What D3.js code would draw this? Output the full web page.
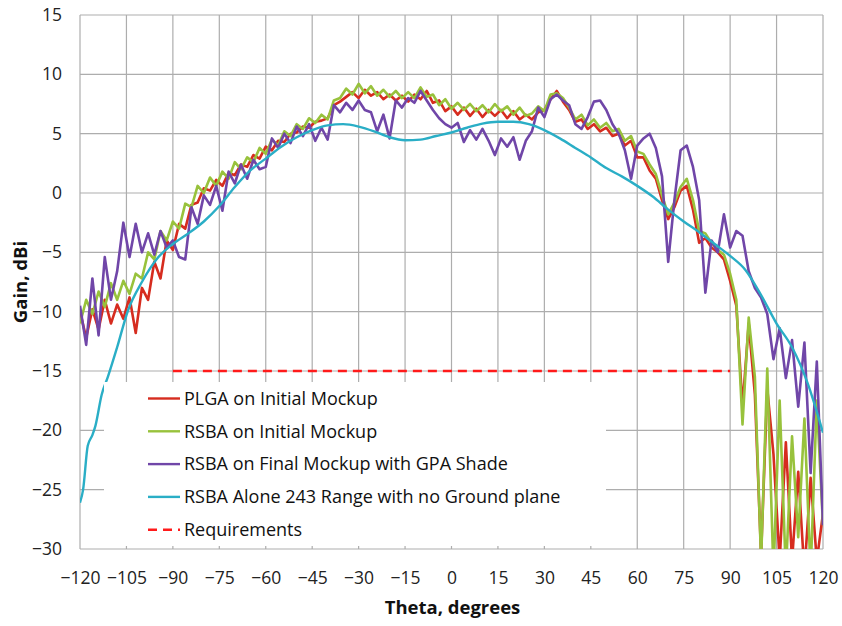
<!DOCTYPE html>
<html><head><meta charset="utf-8">
<script src="https://cdn.jsdelivr.net/npm/d3@7"></script>
<style>
html,body{margin:0;padding:0;background:#fff;}
svg{display:block;font-family:"Open Sans",Lato,sans-serif;}
</style></head><body>
<svg id="chart" width="842" height="626"></svg>
<script>
// Measured gain patterns, sampled every 2 degrees from -120 to 120
const thetaGrid = d3.range(-120, 121, 2);

const plgaInitial = [
  -10.0,-12.2,-9.8,-11.5,-9.0,-11.0,-9.4,-10.6,-8.8,-11.8,
  -8.0,-9.0,-5.8,-7.2,-4.0,-4.8,-2.6,-3.0,-1.0,-0.8,
  0.4,0.2,1.1,0.6,1.7,1.5,2.4,2.2,3.2,2.9,
  3.9,3.6,4.4,4.3,5.0,5.1,5.6,5.5,6.0,6.1,
  6.3,7.4,7.7,8.1,8.5,8.0,8.7,8.2,8.5,7.9,
  8.3,7.8,8.2,7.7,8.3,7.9,8.6,7.6,7.8,6.9,
  7.3,6.6,7.2,6.5,7.1,6.4,7.0,6.5,7.0,6.3,
  6.9,6.2,6.6,6.2,6.8,7.0,7.9,8.6,7.7,7.0,
  6.0,6.2,5.4,5.8,5.2,5.5,4.8,5.0,4.0,4.4,
  3.0,3.0,1.9,1.2,-0.6,-2.2,-1.2,0.2,0.6,-1.4,
  -4.2,-3.8,-4.6,-5.0,-5.6,-7.4,-9.5,-18.0,-11.0,-17.0,
  -30.5,-16.5,-22.0,-31.0,-21.0,-31.0,-23.5,-32.0,-24.0,-31.0,
  -27.0
];

const rsbaInitial = [
  -11.0,-9.0,-10.2,-8.3,-9.6,-7.6,-9.0,-7.4,-8.5,-6.8,
  -7.2,-5.0,-5.6,-3.2,-4.0,-2.4,-3.0,-0.9,-1.2,0.6,
  0.0,1.3,0.6,1.8,1.2,2.6,2.0,3.0,2.6,3.8,
  3.3,4.5,4.0,5.2,4.8,5.8,5.4,6.3,5.9,6.6,
  6.2,7.8,8.0,8.8,8.3,9.2,8.4,9.0,8.2,8.7,
  8.1,8.6,8.0,8.5,8.0,8.9,8.1,8.3,7.4,7.9,
  7.1,7.6,7.0,7.5,6.9,7.4,6.8,7.5,6.9,7.3,
  6.6,7.2,6.5,6.7,7.3,6.9,8.3,8.4,8.0,7.2,
  6.2,6.6,5.7,6.2,5.5,5.9,5.2,5.4,4.4,4.8,
  3.5,3.3,2.4,1.6,-0.2,-1.8,-0.8,0.5,1.2,-0.6,
  -3.2,-3.4,-4.2,-4.8,-5.2,-6.8,-9.0,-19.5,-10.5,-15.5,
  -31.0,-14.8,-32.0,-17.5,-32.0,-20.5,-29.0,-19.0,-32.0,-17.5,
  -28.0
];

const rsbaFinalGpa = [
  -9.5,-12.8,-7.2,-12.0,-5.4,-9.0,-6.6,-2.5,-5.4,-2.6,
  -5.0,-3.4,-5.2,-3.2,-4.6,-4.0,-5.4,-5.6,-1.2,-2.6,
  -0.2,-1.0,0.6,-1.5,1.8,0.8,2.4,1.2,2.8,2.0,
  2.2,4.6,3.8,5.0,4.2,5.6,4.8,5.8,4.4,5.5,
  4.5,7.4,6.8,7.6,7.0,7.8,7.0,6.8,5.2,6.6,
  4.6,7.8,7.2,8.0,7.6,8.6,7.8,7.0,6.3,5.8,
  5.5,5.9,4.3,5.3,4.5,5.4,4.4,3.2,4.6,3.9,
  4.7,2.8,4.4,5.2,7.2,6.4,7.9,8.3,7.8,7.4,
  5.8,5.4,6.4,7.7,7.8,7.0,5.8,5.0,3.6,1.2,
  4.0,4.6,5.0,3.8,1.4,-5.8,-0.6,3.6,4.0,2.2,
  -0.6,-8.4,-4.0,-5.0,-1.8,-4.6,-3.2,-3.6,-6.6,-8.0,
  -8.8,-10.2,-14.0,-11.4,-15.6,-12.4,-18.0,-12.6,-23.6,-14.2,
  -28.0
];

// Antenna alone on the 243 range: smooth pattern
const aloneTheta = [-120,-119,-117.5,-116,-115,-113,-111,-108,-104.5,-100,-95,-90,-85,-80,-75,-70,-65,-60,-55,-50,-45,-40,-35,-30,-25,-20,-15,-10,-5,0,5,10,15,20,25,30,35,40,45,50,55,60,65,70,75,80,85,90,95,100,105,110,115,120];
const aloneGain  = [-26.1,-25.0,-21.3,-20.4,-19.6,-17.0,-15.5,-13.0,-9.9,-7.5,-5.5,-4.3,-3.4,-2.4,-1.1,0.5,1.9,2.9,3.9,4.7,5.3,5.7,5.8,5.6,5.2,4.7,4.45,4.5,4.8,5.1,5.5,5.85,6.0,6.0,5.8,5.3,4.6,3.8,3.0,2.1,1.4,0.6,-0.3,-1.4,-2.4,-3.3,-4.3,-5.3,-6.5,-8.6,-11.0,-13.0,-16.0,-20.2];

const requirementTheta = [-90, 90];
const requirementGain = [-15, -15];

const xTicks = [-120,-105,-90,-75,-60,-45,-30,-15,0,15,30,45,60,75,90,105,120];
const yTicks = [15,10,5,0,-5,-10,-15,-20,-25,-30];

const seriesNames = [
  "PLGA on Initial Mockup",
  "RSBA on Initial Mockup",
  "RSBA on Final Mockup with GPA Shade",
  "RSBA Alone 243 Range with no Ground plane",
  "Requirements"
];
const seriesColors = ["#d62c1f", "#98c23c", "#7046a8", "#2aaec6", "#ff1a1a"];

const svg = d3.select("#chart");
const L = 80, R = 823, T = 15, B = 549;
const x = d3.scaleLinear().domain([-120, 120]).range([L, R]);
const y = d3.scaleLinear().domain([-30, 15]).range([B, T]);
const FONT = "'Open Sans',Lato,sans-serif";

// grid
const grid = svg.append("g");
grid.selectAll("line.v").data(xTicks).join("line")
  .attr("x1", d => x(d)).attr("x2", d => x(d)).attr("y1", T).attr("y2", B)
  .attr("stroke", "#adadad").attr("stroke-width", 1.2);
grid.selectAll("line.h").data(yTicks).join("line")
  .attr("x1", L).attr("x2", R).attr("y1", d => y(d)).attr("y2", d => y(d))
  .attr("stroke", "#adadad").attr("stroke-width", 1.2);

svg.append("clipPath").attr("id", "plotClip").append("rect")
  .attr("x", L).attr("y", T).attr("width", R - L).attr("height", B - T);

const plot = svg.append("g").attr("clip-path", "url(#plotClip)");
const jagged = d3.line().x(d => x(d[0])).y(d => y(d[1]));
const smooth = d3.line().x(d => x(d[0])).y(d => y(d[1])).curve(d3.curveMonotoneX);

[plgaInitial, rsbaInitial, rsbaFinalGpa].forEach((vals, i) => {
  plot.append("path")
    .datum(thetaGrid.map((t, k) => [t, vals[k]]))
    .attr("d", jagged)
    .attr("fill", "none")
    .attr("stroke", seriesColors[i])
    .attr("stroke-width", 2.6)
    .attr("stroke-linejoin", "round");
});
plot.append("path")
  .datum(aloneTheta.map((t, k) => [t, aloneGain[k]]))
  .attr("d", smooth)
  .attr("fill", "none").attr("stroke", seriesColors[3]).attr("stroke-width", 2.4);
plot.append("path")
  .datum(requirementTheta.map((t, k) => [t, requirementGain[k]]))
  .attr("d", jagged)
  .attr("fill", "none").attr("stroke", seriesColors[4]).attr("stroke-width", 2.6)
  .attr("stroke-dasharray", "9,6");

// axes labels
const yAxis = d3.axisLeft(y).tickValues(yTicks).tickSize(0).tickPadding(18);
svg.append("g").attr("transform", `translate(${L},0)`).call(yAxis)
  .call(g => g.select(".domain").remove())
  .selectAll("text").attr("font-size", 17.5).attr("fill", "#222").attr("font-family", FONT);
const xAxis = d3.axisBottom(x).tickValues(xTicks).tickSize(0).tickPadding(23);
svg.append("g").attr("transform", `translate(0,${B})`).call(xAxis)
  .call(g => g.select(".domain").remove())
  .selectAll("text").attr("font-size", 17.5).attr("fill", "#222").attr("font-family", FONT);

svg.append("text").attr("x", (L + R) / 2 + 1).attr("y", 614).attr("text-anchor", "middle")
  .attr("font-size", 18.5).attr("font-weight", "bold").attr("fill", "#111").text("Theta, degrees");
svg.append("text").attr("transform", `translate(27,${(T + B) / 2}) rotate(-90)`).attr("text-anchor", "middle")
  .attr("font-size", 18.5).attr("font-weight", "bold").attr("fill", "#111").text("Gain, dBi");

// legend
const lg = svg.append("g");
lg.append("rect").attr("x", 104).attr("y", 382).attr("width", 502).attr("height", 164).attr("fill", "#fff");
seriesNames.forEach((name, i) => {
  const cy = 398.5 + i * 32.8;
  lg.append("line").attr("x1", 148).attr("x2", 180).attr("y1", cy).attr("y2", cy)
    .attr("stroke", seriesColors[i]).attr("stroke-width", 2.4)
    .attr("stroke-dasharray", i === 4 ? "9,6" : null);
  lg.append("text").attr("x", 184).attr("y", cy).attr("dy", "0.35em")
    .attr("font-size", 18).attr("fill", "#111").attr("font-family", FONT).text(name);
});
</script></body></html>
